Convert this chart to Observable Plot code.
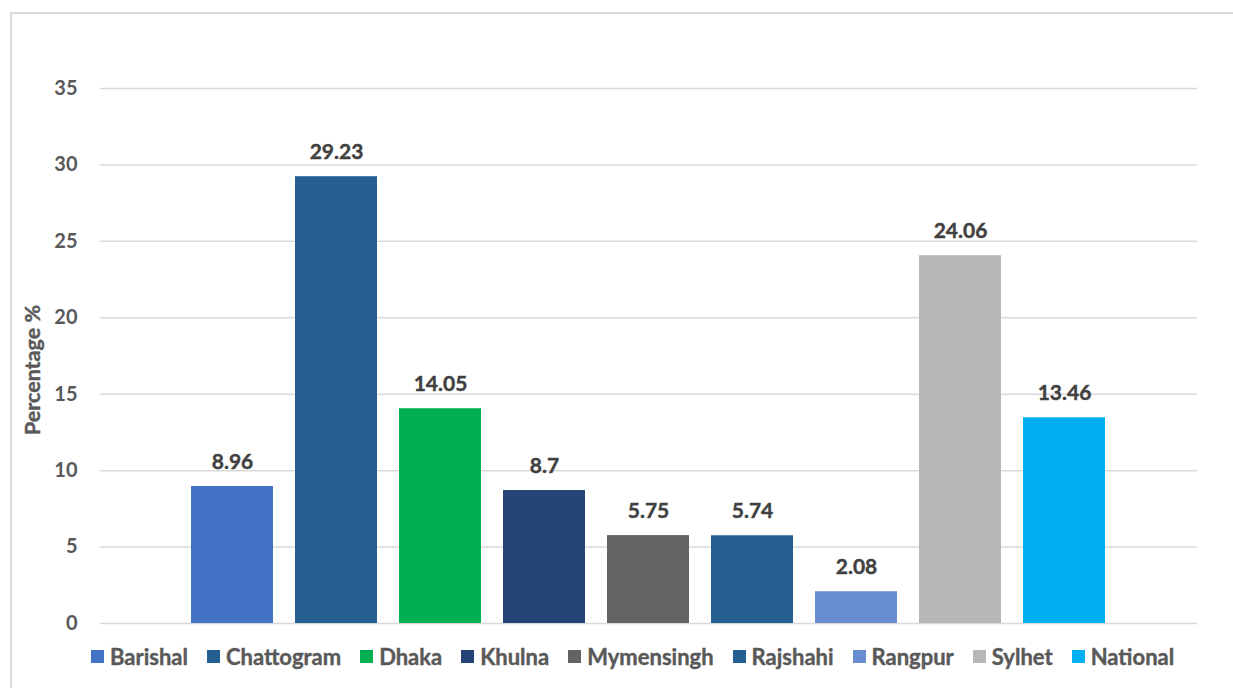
<!DOCTYPE html>
<html>
<head>
<meta charset="utf-8">
<script src="https://cdn.jsdelivr.net/npm/d3@7"></script>
<script src="https://cdn.jsdelivr.net/npm/@observablehq/plot@0.6"></script>
<style>
  html, body { margin: 0; padding: 0; background: #fff; }
  body { width: 1233px; height: 688px; position: relative; overflow: hidden; font-family: Lato, "Open Sans", sans-serif; }
  #frame { position: absolute; left: 10px; top: 12px; width: 1260px; height: 720px; border: 2px solid #d9d9d9; box-sizing: border-box; }
  #chart { position: absolute; left: 0; top: 0; }
  #legend { position: absolute; left: 91px; top: 643px; display: flex; align-items: center; gap: 19px; font-weight: 700; font-size: 22px; color: #595959; -webkit-text-stroke: 0.4px #595959; white-space: nowrap; }
  .item { display: flex; align-items: center; }
  .sw { width: 13px; height: 13px; margin-right: 6px; }
</style>
</head>
<body>
<div id="frame"></div>
<div id="chart"></div>
<div id="legend"></div>
<script>
const regions = ["Barishal", "Chattogram", "Dhaka", "Khulna", "Mymensingh", "Rajshahi", "Rangpur", "Sylhet", "National"];
const values = [8.96, 29.23, 14.05, 8.7, 5.75, 5.74, 2.08, 24.06, 13.46];
const colors = ["#4472C4", "#255E91", "#00B050", "#264478", "#636363", "#255E91", "#698ED0", "#B7B7B7", "#00B0F0"];
const yTicks = [0, 5, 10, 15, 20, 25, 30, 35];

const data = regions.map((r, i) => ({region: r, value: values[i], color: colors[i]}));

const chart = Plot.plot({
  width: 1233,
  height: 640,
  marginTop: 88,
  marginBottom: 17,
  marginLeft: 100,
  marginRight: 36,
  style: {fontFamily: "Lato, 'Open Sans', sans-serif", background: "transparent"},
  x: {domain: regions, paddingInner: 0.21, paddingOuter: 0.866, axis: null},
  y: {domain: [0, 35]},
  marks: [
    Plot.ruleY(yTicks, {stroke: "#d9d9d9", strokeWidth: 1.5}),
    Plot.axisY({ticks: yTicks, tickSize: 0, tickPadding: 23, label: null, fontSize: 20, fontWeight: 700, fill: "#595959", stroke: "#595959", strokeWidth: 0.4}),
    Plot.text(["Percentage %"], {frameAnchor: "left", dx: -67, dy: 14, rotate: -90, textAnchor: "middle", fontSize: 21.5, fontWeight: 700, fill: "#595959", stroke: "#595959", strokeWidth: 0.4}),
    Plot.barY(data, {x: "region", y: "value", fill: "color"}),
    Plot.text(data, {x: "region", y: "value", text: d => String(d.value), dy: -24, fontSize: 21, fontWeight: 700, fill: "#404040", stroke: "#404040", strokeWidth: 0.4})
  ]
});
document.getElementById("chart").appendChild(chart);

const legend = document.getElementById("legend");
data.forEach(d => {
  const item = document.createElement("div");
  item.className = "item";
  const sw = document.createElement("span");
  sw.className = "sw";
  sw.style.background = d.color;
  const lab = document.createElement("span");
  lab.textContent = d.region;
  item.appendChild(sw);
  item.appendChild(lab);
  legend.appendChild(item);
});
</script>
</body>
</html>
